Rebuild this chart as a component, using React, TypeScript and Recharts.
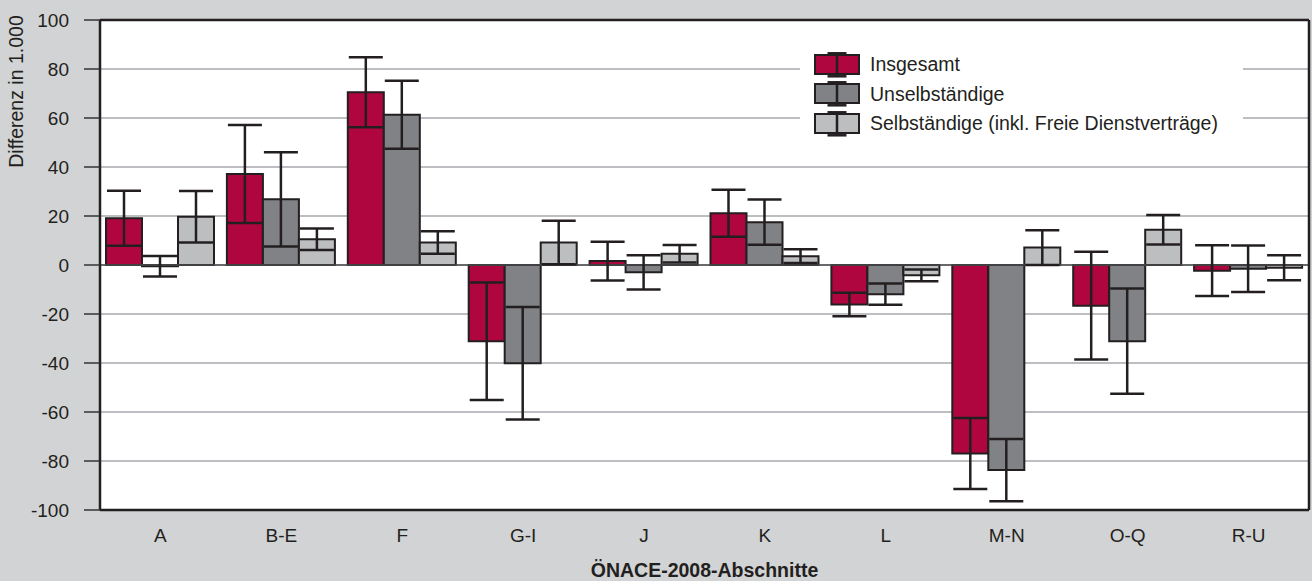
import React from 'react';
import {
  BarChart,
  Bar,
  XAxis,
  YAxis,
  CartesianGrid,
  ErrorBar,
  Legend,
  ReferenceLine,
  ReferenceArea,
} from 'recharts';

const categories = ['A', 'B-E', 'F', 'G-I', 'J', 'K', 'L', 'M-N', 'O-Q', 'R-U'];
const insgesamt = [19.1, 37.1, 70.5, -31.1, 1.6, 21.1, -16.1, -76.9, -16.6, -2.3];
const insgesamtErr = [11.2, 20.0, 14.3, 24.0, 7.9, 9.6, 4.8, 14.5, 22.0, 10.4];
const unselbstaendige = [-0.5, 26.8, 61.3, -40.1, -3.0, 17.5, -11.9, -83.7, -31.1, -1.5];
const unselbstaendigeErr = [4.2, 19.2, 13.9, 23.0, 7.0, 9.2, 4.3, 12.7, 21.5, 9.5];
const selbstaendige = [19.7, 10.5, 9.2, 9.2, 4.6, 3.6, -4.2, 7.1, 14.4, -1.1];
const selbstaendigeErr = [10.5, 4.4, 4.6, 8.9, 3.6, 2.8, 2.4, 7.1, 6.0, 5.1];
const yTicks = [-100, -80, -60, -40, -20, 0, 20, 40, 60, 80, 100];
const seriesNames = ['Insgesamt', 'Unselbständige', 'Selbständige (inkl. Freie Dienstverträge)'];
const seriesColors = ['#b0063f', '#808285', '#bcbec0'];
const yAxisTitle = 'Differenz in 1.000';
const xAxisTitle = 'ÖNACE-2008-Abschnitte';

const DARK = '#231f20';
const FONT = '"Liberation Sans", Arial, Helvetica, sans-serif';

const data = categories.map((cat, i) => ({
  cat,
  ins: insgesamt[i],
  insErr: insgesamtErr[i],
  uns: unselbstaendige[i],
  unsErr: unselbstaendigeErr[i],
  sel: selbstaendige[i],
  selErr: selbstaendigeErr[i],
}));

const renderLegend = () => (
  <div style={{ paddingTop: 4, paddingLeft: 14, fontFamily: FONT }}>
    {seriesNames.map((n, i) => (
      <div key={n} style={{ display: 'flex', alignItems: 'center', height: 29.5 }}>
        <svg width={46} height={26} style={{ display: 'block', flex: 'none' }}>
          <rect x={1} y={3} width={44} height={19} fill={seriesColors[i]} stroke={DARK} strokeWidth={2} />
          <line x1={23} x2={23} y1={1} y2={24.5} stroke={DARK} strokeWidth={2.5} />
          <line x1={13.5} x2={32.5} y1={1.3} y2={1.3} stroke={DARK} strokeWidth={2.5} />
          <line x1={13.5} x2={32.5} y1={24.3} y2={24.3} stroke={DARK} strokeWidth={2.5} />
        </svg>
        <span
          style={{
            marginLeft: 10,
            fontSize: 19.5,
            color: DARK,
            lineHeight: '29.5px',
            whiteSpace: 'nowrap',
          }}
        >
          {n}
        </span>
      </div>
    ))}
  </div>
);

const renderYLabel = (props: any) => {
  const vb = props.viewBox || { x: 0, y: 20 };
  const x = vb.x + 23;
  const y = vb.y + 71.5;
  return (
    <text
      x={x}
      y={y}
      transform={`rotate(-90 ${x} ${y})`}
      textAnchor="middle"
      fontSize={19.5}
      fill={DARK}
      fontFamily={FONT}
    >
      {yAxisTitle}
    </text>
  );
};

export default function App() {
  return (
    <div
      style={{
        position: 'absolute',
        left: 0,
        top: 0,
        width: 1312,
        height: 581,
        background: '#d1d3d4',
        fontFamily: FONT,
      }}
    >
      <BarChart
        width={1312}
        height={581}
        data={data}
        margin={{ top: 20, right: 0, bottom: 0, left: 0 }}
        barCategoryGap={6}
        barGap={0}
        style={{ fontFamily: FONT }}
      >
        <CartesianGrid vertical={false} stroke="#a7a9ac" strokeWidth={1.5} fill="#ffffff" />
        <XAxis
          dataKey="cat"
          height={71}
          tickLine={false}
          tickSize={0}
          tickMargin={19}
          axisLine={{ stroke: DARK, strokeWidth: 2.5 }}
          tick={{ fill: DARK, fontSize: 19 }}
          label={{
            value: xAxisTitle,
            position: 'insideBottom',
            offset: 4,
            fill: DARK,
            fontSize: 19.5,
            fontWeight: 'bold',
          }}
        />
        <YAxis
          width={100}
          domain={[-100, 100]}
          ticks={yTicks}
          interval={0}
          tickSize={16}
          tickMargin={15}
          tickLine={{ stroke: '#333333', strokeWidth: 1.5 }}
          axisLine={{ stroke: DARK, strokeWidth: 2.5 }}
          tick={{ fill: DARK, fontSize: 19 }}
          label={renderYLabel}
        />
        <YAxis
          yAxisId="right"
          orientation="right"
          width={3}
          tick={false}
          tickLine={false}
          axisLine={{ stroke: DARK, strokeWidth: 2.5 }}
        />
        <ReferenceLine y={0} stroke="#4d4d4f" strokeWidth={1.5} />
        <ReferenceLine y={100} stroke={DARK} strokeWidth={2.5} />
        <Legend
          layout="vertical"
          align="center"
          verticalAlign="middle"
          content={renderLegend}
          wrapperStyle={{
            position: 'absolute',
            left: 800,
            top: 46,
            width: 443,
            height: 98,
            background: '#ffffff',
            margin: 0,
            padding: 0,
          }}
        />
        <Bar dataKey="ins" name={seriesNames[0]} fill={seriesColors[0]} stroke={DARK} strokeWidth={2} isAnimationActive={false}>
          <ErrorBar dataKey="insErr" width={17} stroke={DARK} strokeWidth={2.5} isAnimationActive={false} />
        </Bar>
        <Bar dataKey="uns" name={seriesNames[1]} fill={seriesColors[1]} stroke={DARK} strokeWidth={2} isAnimationActive={false}>
          <ErrorBar dataKey="unsErr" width={17} stroke={DARK} strokeWidth={2.5} isAnimationActive={false} />
        </Bar>
        <Bar dataKey="sel" name={seriesNames[2]} fill={seriesColors[2]} stroke={DARK} strokeWidth={2} isAnimationActive={false}>
          <ErrorBar dataKey="selErr" width={17} stroke={DARK} strokeWidth={2.5} isAnimationActive={false} />
        </Bar>
      </BarChart>
    </div>
  );
}
